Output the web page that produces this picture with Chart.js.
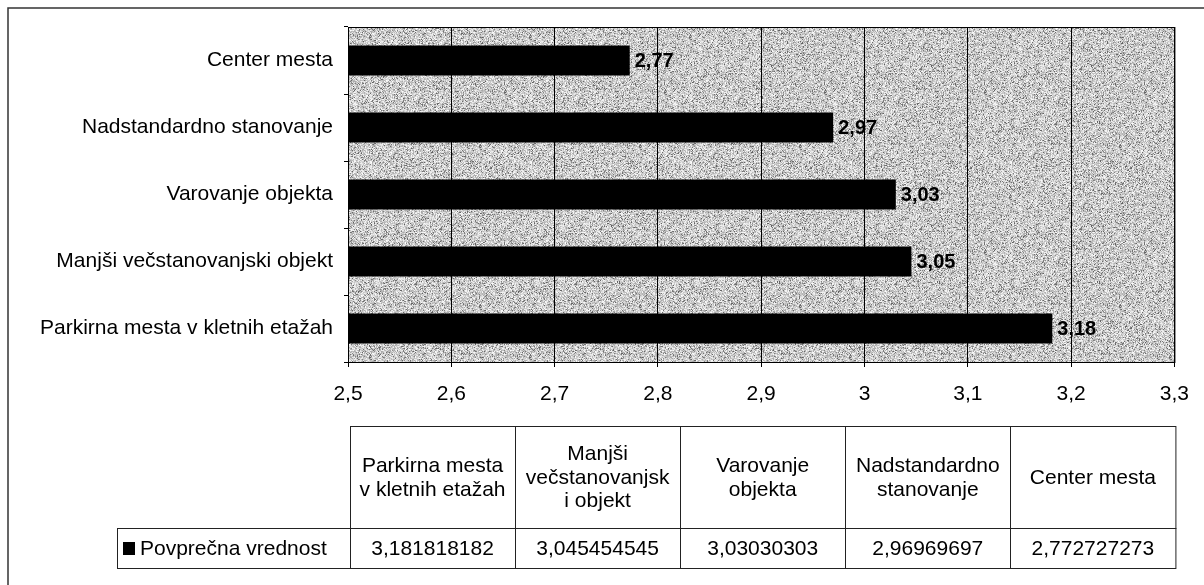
<!DOCTYPE html>
<html>
<head>
<meta charset="utf-8">
<script src="https://cdn.jsdelivr.net/npm/chart.js@4"></script>
<style>
  html, body { margin: 0; padding: 0; background: #fff; }
  canvas { display: block; }
</style>
</head>
<body>
<canvas id="c" width="1204" height="585"></canvas>
<script>
// Categories in series order (first one is drawn at the bottom of the chart)
const categories = [
  'Parkirna mesta v kletnih etažah',
  'Manjši večstanovanjski objekt',
  'Varovanje objekta',
  'Nadstandardno stanovanje',
  'Center mesta'
];
// Same categories as they wrap inside the data-table header cells
const tableHeaders = [
  ['Parkirna mesta', 'v kletnih etažah'],
  ['Manjši', 'večstanovanjsk', 'i objekt'],
  ['Varovanje', 'objekta'],
  ['Nadstandardno', 'stanovanje'],
  ['Center mesta']
];
const seriesName = 'Povprečna vrednost';
const averages = [3.181818182, 3.045454545, 3.03030303, 2.96969697, 2.772727273];
const xTicks = [2.5, 2.6, 2.7, 2.8, 2.9, 3.0, 3.1, 3.2, 3.3];

const FONT = '"Liberation Sans", Arial, sans-serif';
const comma = s => s.replace('.', ',');
const fmtShort = v => comma(v.toFixed(2));
const fmtFull = v => comma(String(parseFloat(v.toPrecision(10))));
const fmtTick = v => comma(String(Math.round(v * 10) / 10));

// Grainy grey fill for the plot area
function makeGrain() {
  const c = document.createElement('canvas');
  c.width = 160; c.height = 160;
  const g = c.getContext('2d');
  const img = g.createImageData(160, 160);
  let s = 12345;
  const rnd = () => { s = (s * 1103515245 + 12345) & 0x7fffffff; return s / 0x7fffffff; };
  for (let i = 0; i < 160 * 160; i++) {
    const r = rnd();
    let v = 155 + r * 95;
    if (r < 0.12) v = 95 + rnd() * 50;
    if (r > 0.93) v = 238 + rnd() * 17;
    img.data[i * 4] = img.data[i * 4 + 1] = img.data[i * 4 + 2] = v;
    img.data[i * 4 + 3] = 255;
  }
  g.putImageData(img, 0, 0);
  return c;
}
const grain = makeGrain();

const plotBackground = {
  id: 'plotBackground',
  beforeDraw(chart) {
    const { ctx, chartArea: a } = chart;
    ctx.save();
    ctx.fillStyle = ctx.createPattern(grain, 'repeat');
    ctx.fillRect(a.left, a.top, a.right - a.left, a.bottom - a.top);
    ctx.restore();
  },
  afterDatasetsDraw(chart) {
    const { ctx, chartArea: a } = chart;
    ctx.save();
    ctx.strokeStyle = '#000';
    ctx.lineWidth = 1;
    ctx.strokeRect(a.left + 0.5, a.top + 0.5, a.right - a.left, a.bottom - a.top);
    ctx.restore();
  }
};

const valueLabels = {
  id: 'valueLabels',
  afterDatasetsDraw(chart) {
    const { ctx } = chart;
    const meta = chart.getDatasetMeta(0);
    ctx.save();
    ctx.font = 'bold 20px ' + FONT;
    ctx.fillStyle = '#000';
    ctx.textAlign = 'left';
    ctx.textBaseline = 'middle';
    meta.data.forEach((bar, i) => {
      ctx.fillText(fmtShort(averages[i]), bar.x + 5, bar.y + 1);
    });
    ctx.restore();
  }
};

const dataTable = {
  id: 'dataTable',
  afterDraw(chart) {
    const { ctx, chartArea: a } = chart;
    const left = a.left + 2, right = a.right + 1;
    const colW = (right - left) / categories.length;
    const headTop = 426, headBot = 528, rowBot = 568, labelLeft = 117;
    ctx.save();
    ctx.strokeStyle = '#222';
    ctx.lineWidth = 1;
    // header cells
    ctx.strokeRect(left + 0.5, headTop + 0.5, right - left, headBot - headTop);
    for (let i = 1; i < categories.length; i++) {
      const x = Math.round(left + colW * i) + 0.5;
      ctx.beginPath(); ctx.moveTo(x, headTop); ctx.lineTo(x, rowBot); ctx.stroke();
    }
    // value row
    ctx.strokeRect(labelLeft + 0.5, headBot + 0.5, right - labelLeft, rowBot - headBot);
    ctx.beginPath(); ctx.moveTo(left + 0.5, headBot); ctx.lineTo(left + 0.5, rowBot); ctx.stroke();

    ctx.fillStyle = '#000';
    ctx.font = '21px ' + FONT;
    ctx.textAlign = 'center';
    ctx.textBaseline = 'middle';
    const lh = 23.5;
    tableHeaders.forEach((lines, i) => {
      const cx = left + colW * (i + 0.5);
      const cy = (headTop + headBot) / 2;
      lines.forEach((t, j) => {
        ctx.fillText(t, cx, cy + (j - (lines.length - 1) / 2) * lh + 1);
      });
      ctx.fillText(fmtFull(averages[i]), cx, (headBot + rowBot) / 2 + 1);
    });
    // legend key + series name
    ctx.fillRect(123, 542, 12, 13);
    ctx.textAlign = 'left';
    ctx.fillText(seriesName, 140, (headBot + rowBot) / 2 + 1);

    // outer frame (left and top edges)
    ctx.strokeStyle = '#333';
    ctx.lineWidth = 1.5;
    ctx.beginPath();
    ctx.moveTo(8, 585); ctx.lineTo(8, 8); ctx.lineTo(1204, 8);
    ctx.stroke();
    ctx.restore();
  }
};

new Chart(document.getElementById('c'), {
  type: 'bar',
  data: {
    labels: categories,
    datasets: [{
      label: seriesName,
      data: averages,
      backgroundColor: '#000',
      borderWidth: 0,
      categoryPercentage: 1,
      barPercentage: 0.45
    }]
  },
  options: {
    indexAxis: 'y',
    responsive: false,
    animation: false,
    devicePixelRatio: 1,
    layout: { padding: { left: 8, top: 27, right: 29, bottom: 163 } },
    plugins: { legend: { display: false }, tooltip: { enabled: false } },
    scales: {
      x: {
        min: 2.5, max: 3.3,
        afterBuildTicks(scale) { scale.ticks = xTicks.map(v => ({ value: v })); },
        afterTickToLabelConversion(scale) {
          scale.ticks.forEach(t => { t.label = fmtTick(t.value); });
        },
        afterFit(scale) { scale.height = 60; },
        grid: { color: '#000', lineWidth: 1, tickLength: 5, drawOnChartArea: true },
        border: { color: '#000', width: 1 },
        ticks: {
          color: '#000',
          font: { family: FONT, size: 21 },
          padding: 15,
          maxRotation: 0,
          autoSkip: false
        }
      },
      y: {
        reverse: true,
        afterFit(scale) { scale.width = 340; },
        grid: { color: '#000', lineWidth: 1, tickLength: 4, drawOnChartArea: false, offset: true },
        border: { color: '#000', width: 1 },
        ticks: {
          color: '#000',
          font: { family: FONT, size: 21 },
          padding: 11
        }
      }
    }
  },
  plugins: [plotBackground, valueLabels, dataTable]
});
</script>
</body>
</html>
